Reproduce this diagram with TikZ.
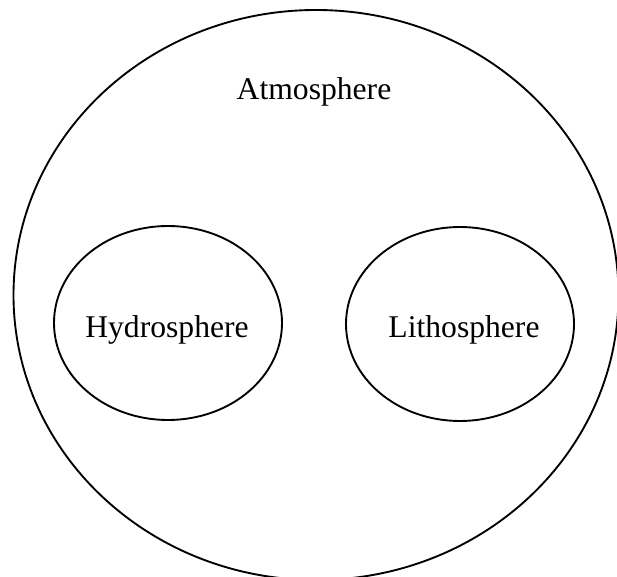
\documentclass[tikz,border=0pt]{standalone}
\usepackage{fontspec}
\setmainfont{Liberation Serif}
\usetikzlibrary{positioning,shapes.geometric}

\begin{document}
\begin{tikzpicture}[
    x=0.3mm, y=-0.3mm,
    font=\fontsize{27}{32}\selectfont,
    sphere/.style={draw, ellipse, line width=1.6pt, inner sep=0pt},
    spherename/.style={anchor=base, inner sep=0pt},
  ]

  % ---------- page frame ----------
  \useasboundingbox (0,0) rectangle (617,577);

  % ---------- outer sphere ----------
  \node[sphere, minimum width=181.5mm, minimum height=171mm] (atmo) at (316,295) {};
  \node[spherename] (atmolabel) at (314,100) {Atmosphere};

  % ---------- inner spheres ----------
  \node[sphere, minimum width=68.4mm, minimum height=58.2mm] (hydro) at (168,323) {};
  \node[spherename] (hydrolabel) at (167,338) {Hydrosphere};

  \node[sphere, minimum width=68.4mm, minimum height=58.2mm] (litho) at (460,324) {};
  \node[spherename] (litholabel) at (464,338) {Lithosphere};

\end{tikzpicture}
\end{document}
